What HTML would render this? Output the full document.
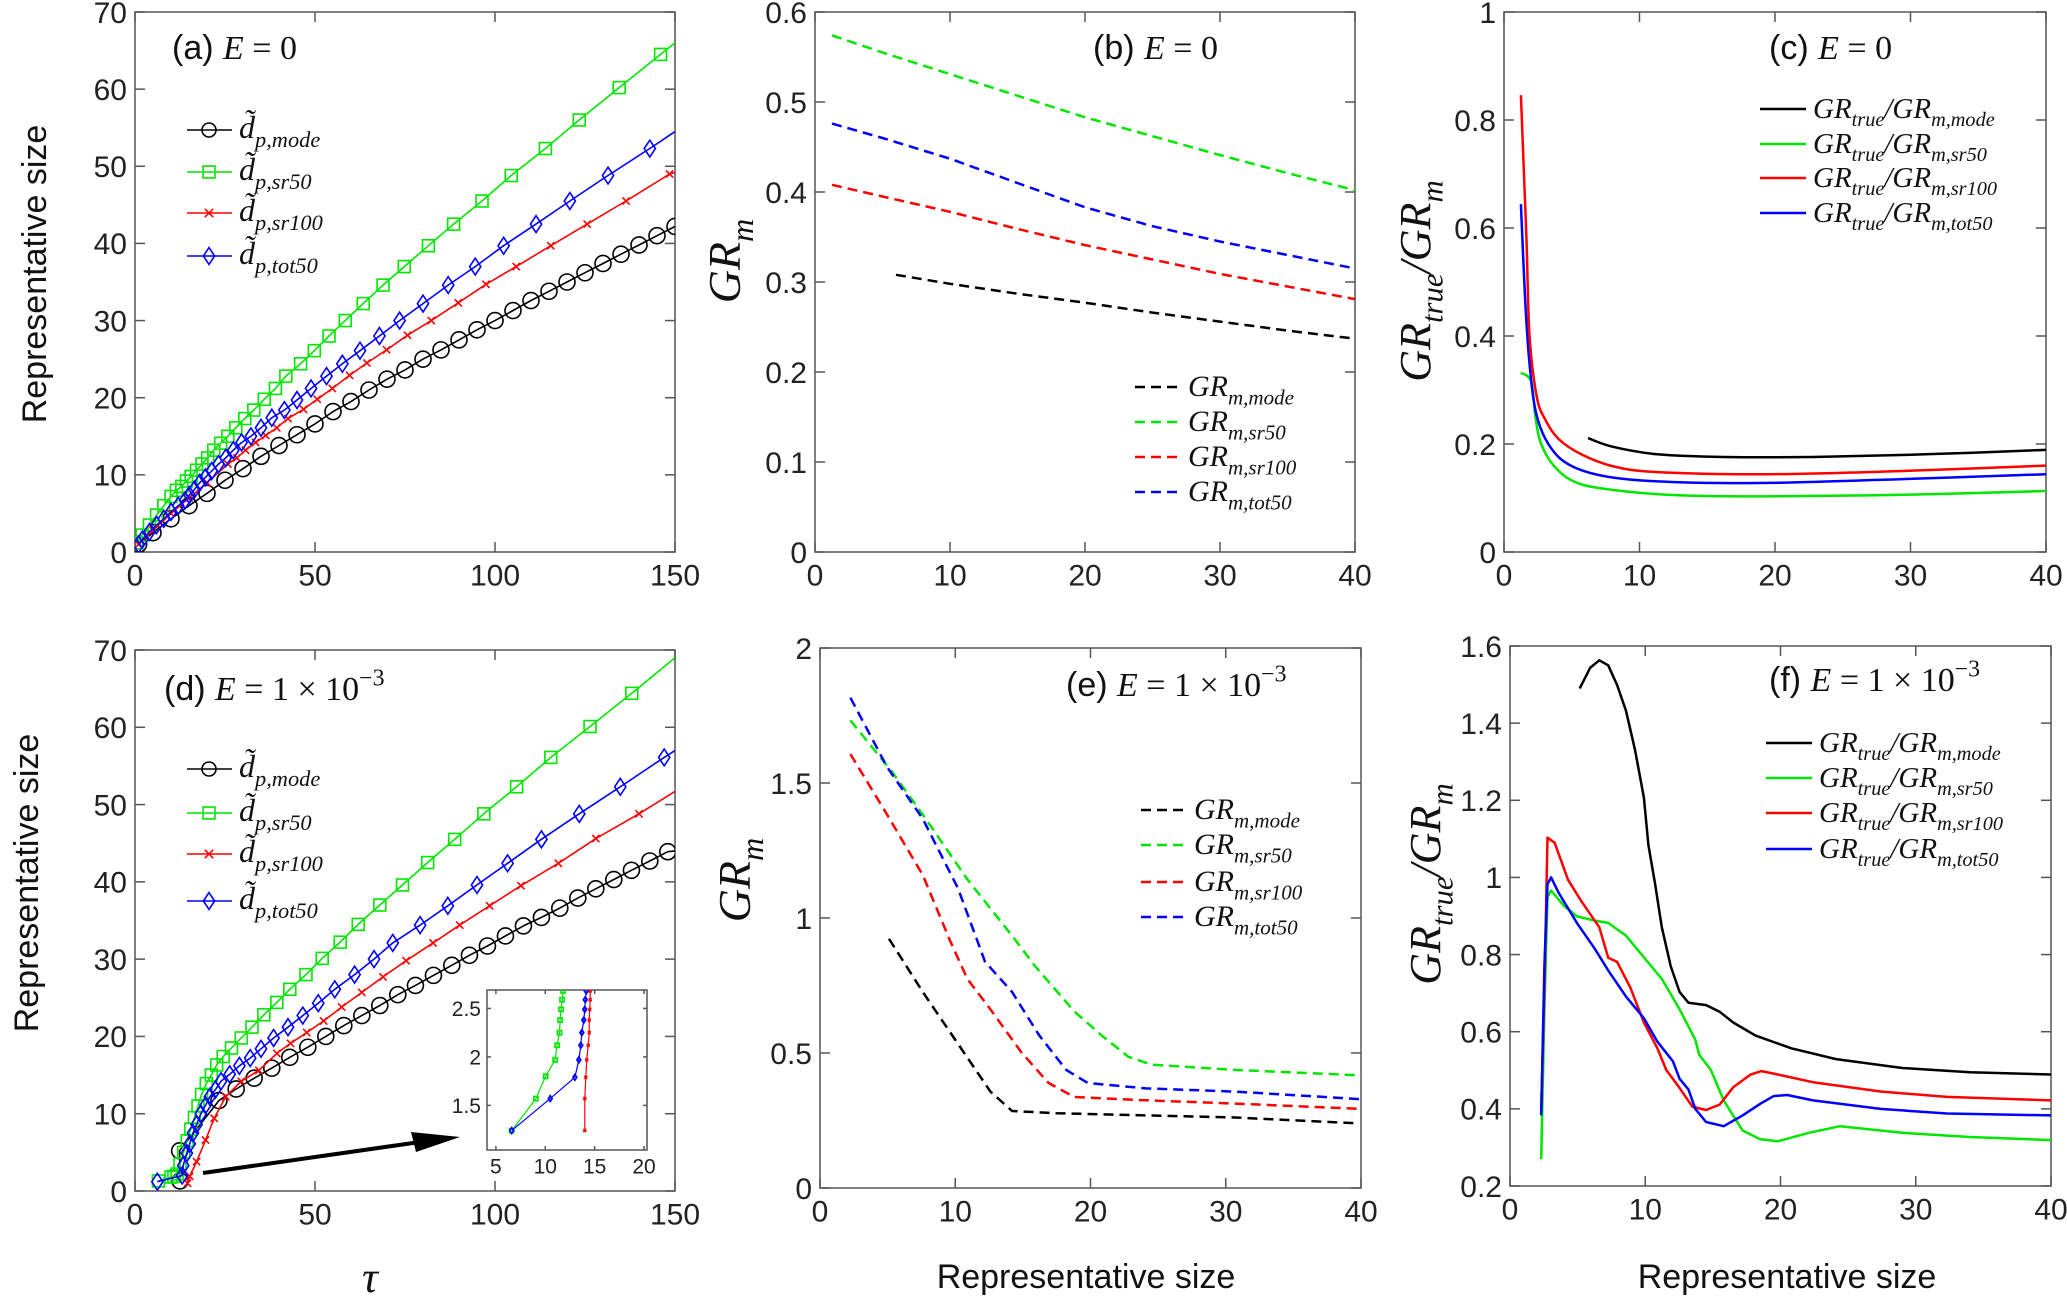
<!DOCTYPE html>
<html><head><meta charset="utf-8"><style>
html,body{margin:0;padding:0;background:#fff;}
svg{display:block;font-family:"Liberation Sans",sans-serif;}
</style></head><body>
<svg id="fig" width="2067" height="1299" viewBox="0 0 2067 1299" xmlns="http://www.w3.org/2000/svg"></svg>
<script>
// ---------- data ----------
// Panel (a)
const aBlackX=[1,5,10,15,20,25,30,35,40,45,50,55,60,65,70,75,80,85,90,95,100,105,110,115,120,125,130,135,140,145,150];
const aBlackY=[1,2.5,4.3,6,7.6,9.3,10.8,12.4,13.8,15.2,16.6,18.2,19.5,21,22.4,23.6,25,26.2,27.5,28.8,30,31.3,32.6,33.8,35,36.2,37.4,38.6,39.8,41,42.2];
const aGreenX=[0.5,2,4,6,8,10,11.5,13,14.3,15.6,17.1,18.6,20.2,21.9,23.8,25.8,28,30.5,33,35.9,39,41.9,46,49.8,53.9,58.4,63.4,68.9,74.8,81.5,88.5,96.4,104.5,114,123.4,134.5,146];
const aGreenY=[1.2,2.2,3.5,4.8,6,7.2,8,8.5,9.2,9.8,10.6,11.4,12.2,13.2,14.1,15,16.1,17.3,18.4,19.8,21.2,22.8,24.4,26.1,28,30,32.2,34.6,37,39.7,42.5,45.5,48.8,52.3,56,60.2,64.5];
const aRedX=[1,5,10,15,20,25.8,28.3,30.7,33.5,36.3,39.4,42.5,46.8,50.6,54.8,59.6,64.4,69.9,75.7,82.3,89.8,97.5,105.9,115.5,125.6,136.4,148.5];
const aRedY=[1,2.8,5,7,9,11.4,12.2,13.2,14.2,15.1,16.1,17.3,18.5,19.8,21.2,22.9,24.5,26.2,28.1,30,32.3,34.7,37,39.7,42.5,45.5,49];
const aBlueX=[1,2,4,6,8,10,12,13.9,15.1,16.5,18,19.6,21.3,23.2,25.2,27.3,29.6,32.2,35,38,41.5,45,48.9,53.2,57.6,62.5,67.9,73.5,80,87,94.5,102.4,111.4,120.8,131.4,143];
const aBlueY=[1,1.6,2.6,3.5,4.3,5.2,6,6.7,7.4,8.1,9,9.7,10.5,11.4,12.2,13.2,14.2,15,16.1,17.4,18.4,19.7,21.2,22.8,24.4,26.1,28,30,32.2,34.6,37,39.7,42.5,45.5,48.8,52.3];
const aEnd={black:42.2,green:66,red:49.2,blue:54.5};
// Panel (d)
const dBlackX=[12.5,12.4,23.3,28.1,33.1,38,43,48,53,58,63,68,73,77.9,82.9,88,92.9,97.9,102.9,107.9,112.9,118,123,128,133,137.9,143,148];
const dBlackY=[1.3,5.2,11.7,13.2,14.6,15.9,17.3,18.6,20,21.4,22.7,24,25.4,26.6,27.9,29.2,30.5,31.7,33,34.3,35.4,36.6,37.9,39.1,40.3,41.5,42.7,43.9];
const dGreenX=[6.5,10,10.8,11.7,12.5,13.5,14.5,15.5,16.5,17.5,18.5,19.8,21.2,22.7,24.5,26.8,29.5,32.5,35.8,39.4,43,47.5,52,57,62,68,74.3,81.3,88.8,96.9,106,115.5,126.4,138];
const dGreenY=[1.3,1.8,1.9,2.2,3.5,5,6.5,8,9.5,11,12.5,13.9,15,16.3,17.4,18.5,19.8,21.2,22.8,24.4,26.1,28,30.1,32.2,34.5,37,39.6,42.5,45.5,48.8,52.3,56.1,60.1,64.4];
const dRedX=[14.6,15.2,17.1,19.6,22,25.2,29.5,34.4,39.4,43.2,47.7,52.4,57.4,63,68.9,75.3,82.8,90.2,98.5,107.2,117.6,128,140];
const dRedY=[1,1.9,3.8,6.6,9.4,12.2,14.2,15.6,17.8,19.1,20.5,22,23.8,25.7,27.7,29.8,32.1,34.4,36.9,39.5,42.4,45.6,48.8];
const dBlueX=[6.2,13.1,13.4,14.4,15.2,16.1,17.1,18.3,19.6,20.8,22.3,23.9,26.3,29,32,35,38.5,42.5,46.6,50.9,55.5,61,66.4,71.6,79.2,86.9,95,103.5,112.9,123.4,134.8,147];
const dBlueY=[1.2,2,3.3,4.9,6.1,7.5,8.6,10,11.1,12.2,13.1,14.2,15.1,16.2,17.2,18.4,19.8,21.2,22.7,24.3,26.1,28,30,32.1,34.4,36.9,39.6,42.4,45.5,48.8,52.3,56.1];
const dEnd={black:44,green:69,red:51.7,blue:57};
// inset
const inGreenX=[6.6,9.05,10.04,11,11.2,11.44,11.5,11.6,11.7,11.8];
const inGreenY=[1.24,1.57,1.80,1.97,2.12,2.25,2.38,2.49,2.59,2.68];
const inBlueX=[6.6,10.5,13,13.4,13.6,13.7,13.9,14,14.05,14.15];
const inBlueY=[1.24,1.57,1.79,1.97,2.12,2.25,2.38,2.49,2.59,2.68];
const inRedX=[14,14,14.1,14.2,14.35,14.45,14.45,14.5,14.55,14.55];
const inRedY=[1.24,1.57,1.79,1.97,2.12,2.25,2.38,2.49,2.59,2.68];
// Panel (b)
const bX=[1.26,5,10,15,20,25,30,35,40];
const bGreen=[0.574,0.555,0.531,0.507,0.483,0.462,0.441,0.421,0.402];
const bBlue=[0.476,0.46,0.437,0.41,0.383,0.362,0.345,0.33,0.315];
const bRed=[0.408,0.395,0.378,0.359,0.341,0.325,0.309,0.295,0.281];
const bBlackX=[6,10,15,20,25,30,35,40];
const bBlack=[0.308,0.298,0.287,0.277,0.266,0.256,0.246,0.237];
// Panel (c)
const cRedX=[1.25,1.65,1.88,2.4,3,4,5.7,8,11.3,19.5,29.4,40];
const cRed=[0.846,0.583,0.40,0.29,0.247,0.21,0.181,0.159,0.148,0.144,0.15,0.16];
const cBlueX=[1.25,1.55,1.88,2.4,3.4,5,8,12.9,19.5,29.4,40];
const cBlue=[0.644,0.473,0.349,0.254,0.195,0.159,0.138,0.129,0.128,0.135,0.144];
const cGreenX=[1.25,2,2.3,2.7,3.7,5.3,8,12.9,19.5,29.4,40];
const cGreen=[0.332,0.316,0.254,0.203,0.159,0.129,0.115,0.105,0.103,0.106,0.113];
const cBlackX=[6.2,8,11.3,16.2,22.8,31.1,40];
const cBlack=[0.211,0.195,0.181,0.176,0.176,0.181,0.189];
// Panel (e)
const eGreenX=[2.25,5.3,7.6,10.9,14.2,15.9,18.8,20.8,22.8,24.5,30.7,40];
const eGreen=[1.732,1.543,1.383,1.143,0.934,0.822,0.654,0.566,0.486,0.457,0.4375,0.417];
const eBlueX=[2.25,4.96,7.6,10.2,12.2,14.2,16.2,18.2,19.8,24.1,30.7,40];
const eBlue=[1.816,1.559,1.367,1.11,0.838,0.726,0.566,0.4375,0.389,0.369,0.357,0.329];
const eRedX=[2.25,4.96,7.6,9.6,10.9,12.6,14.9,16.9,18.8,24.1,30.7,40];
const eRed=[1.607,1.383,1.159,0.918,0.774,0.662,0.502,0.389,0.337,0.325,0.3125,0.293];
const eBlackX=[5.1,7.6,10.2,12.6,14.2,17.5,24.1,30.7,39.5];
const eBlack=[0.923,0.726,0.534,0.357,0.285,0.277,0.269,0.261,0.24];
// Panel (f)
const fBlackX=[5.15,5.94,6.6,7.26,7.92,8.58,9.24,9.9,10.23,10.73,11.22,11.88,12.54,13.2,14.5,15.5,16.5,18.15,20.8,24.1,29,34,40];
const fBlack=[1.49,1.544,1.563,1.55,1.499,1.432,1.331,1.207,1.084,0.983,0.871,0.77,0.703,0.675,0.669,0.652,0.624,0.59,0.557,0.529,0.506,0.495,0.489];
const fRedX=[2.31,2.54,2.77,3.3,4.29,5.28,6.6,7.26,7.92,8.9,9.9,10.9,11.55,12.5,13.5,14.5,15.5,16.5,17.8,18.6,19.8,22.4,27.4,32.3,40];
const fRed=[0.4,0.714,1.103,1.09,0.994,0.938,0.871,0.792,0.781,0.714,0.624,0.557,0.501,0.456,0.405,0.397,0.411,0.456,0.489,0.498,0.489,0.469,0.445,0.431,0.422];
const fBlueX=[2.31,2.54,2.77,3.04,3.6,4.95,6.27,7.26,8.58,9.9,10.9,12.05,12.54,13.2,13.7,14.5,15.8,17.2,18.5,19.5,20.5,22.4,27.4,32.3,40];
const fBlue=[0.383,0.77,0.983,1.0,0.96,0.882,0.815,0.759,0.691,0.635,0.574,0.523,0.478,0.45,0.4,0.366,0.355,0.383,0.413,0.433,0.436,0.422,0.4,0.388,0.383];
const fGreenX=[2.31,2.54,2.77,3.04,3.96,4.95,6.27,7.26,8.58,9.9,11.22,12.54,13.7,14,14.85,15.8,17.2,18.5,19.8,22.1,24.4,29,34,40];
const fGreen=[0.27,0.658,0.949,0.966,0.927,0.899,0.888,0.882,0.849,0.793,0.737,0.658,0.579,0.54,0.501,0.422,0.344,0.321,0.316,0.338,0.355,0.338,0.327,0.319];
// ticks
const tauTicks=[0,50,100,150];
const sizeTicks=[0,10,20,30,40,50,60,70];
const grTicks=[0,10,20,30,40];
const bYTicks=[0,0.1,0.2,0.3,0.4,0.5,0.6];
const cYTicks=[0,0.2,0.4,0.6,0.8,1];
const eYTicks=[0,0.5,1,1.5,2];
const fYTicks=[0.2,0.4,0.6,0.8,1,1.2,1.4,1.6];
const inXTicks=[5,10,15,20];
const inYTicks=[1.5,2,2.5];

// ---------- drawing ----------
const NS="http://www.w3.org/2000/svg";
const svg=document.getElementById('fig');
const COL={black:'#000',green:'#00e600',red:'#ff0000',blue:'#0000ff'};
function el(tag,attrs,parent){const e=document.createElementNS(NS,tag);for(const k in attrs)e.setAttribute(k,attrs[k]);(parent||svg).appendChild(e);return e;}
let clipId=0;
function makeAxes(name,L,R,T,B,xmin,xmax,ymin,ymax,xt,yt,opt){
  opt=opt||{};
  const g=el('g',{});
  
  
  const sx=v=>L+(v-xmin)/(xmax-xmin)*(R-L);
  const sy=v=>B-(v-ymin)/(ymax-ymin)*(B-T);
  const fs=opt.fs||30, tl=opt.tl||10;
  el('rect',{x:L,y:T,width:R-L,height:B-T,fill:'#fff',stroke:'#555','stroke-width':1.5},g);
  const tk=el('g',{stroke:'#555','stroke-width':1.5},g);
  
  
  xt.forEach(v=>{const x=sx(v);el('line',{x1:x,x2:x,y1:B,y2:B-tl},tk);el('line',{x1:x,x2:x,y1:T,y2:T+tl},tk);
    const t=el('text',{x:x,y:B+fs*1.12,'text-anchor':'middle','font-size':fs,fill:'#222'},g);t.textContent=String(v);
    
    });
  yt.forEach(v=>{const y=sy(v);el('line',{x1:L,x2:L+tl,y1:y,y2:y},tk);el('line',{x1:R,x2:R-tl,y1:y,y2:y},tk);
    const t=el('text',{x:L-(opt.lpad||8),y:y+fs*0.36,'text-anchor':'end','font-size':fs,fill:'#222'},g);t.textContent=String(v);
    
    });
  const id='clip'+(clipId++);
  const cp=el('clipPath',{id:id},g);el('rect',{x:L,y:T,width:R-L,height:B-T},cp);
  const plot=el('g',{'clip-path':'url(#'+id+')'},g);
  
  
  return {g,plot,sx,sy};
}
function pathD(ax,xs,ys,smooth){
  const P=xs.map((x,i)=>[ax.sx(x),ax.sy(ys[i])]);
  if(!smooth)return P.map((p,i)=>(i?'L':'M')+p[0].toFixed(1)+' '+p[1].toFixed(1)).join(' ');
  let d='M'+P[0][0].toFixed(1)+' '+P[0][1].toFixed(1);
  for(let i=0;i<P.length-1;i++){
    const p0=P[i-1]||P[i],p1=P[i],p2=P[i+1],p3=P[i+2]||p2;
    const c1=[p1[0]+(p2[0]-p0[0])/6,p1[1]+(p2[1]-p0[1])/6];
    const c2=[p2[0]-(p3[0]-p1[0])/6,p2[1]-(p3[1]-p1[1])/6];
    d+=` C${c1[0].toFixed(1)} ${c1[1].toFixed(1)} ${c2[0].toFixed(1)} ${c2[1].toFixed(1)} ${p2[0].toFixed(1)} ${p2[1].toFixed(1)}`;
  }
  return d;
}
function line(ax,xs,ys,color,name,dash,w,smooth){
  const p=el('path',{d:pathD(ax,xs,ys,smooth),fill:'none',stroke:color,'stroke-width':w||2.5,'stroke-linejoin':'round'},ax.plot);
  if(dash)p.setAttribute('stroke-dasharray',dash);
  
  
  return p;
}
function marker(parent,type,x,y,color,s){
  let m;
  if(type==='o')m=el('circle',{cx:x,cy:y,r:s,fill:'none',stroke:color,'stroke-width':1.6},parent);
  else if(type==='s')m=el('rect',{x:x-s*0.85,y:y-s*0.85,width:s*1.7,height:s*1.7,fill:'none',stroke:color,'stroke-width':1.6},parent);
  else if(type==='d')m=el('path',{d:`M${x} ${y-s*1.2}L${x+s*0.8} ${y}L${x} ${y+s*1.2}L${x-s*0.8} ${y}Z`,fill:'none',stroke:color,'stroke-width':1.6},parent);
  else m=el('path',{d:`M${x-s*0.6} ${y-s*0.6}L${x+s*0.6} ${y+s*0.6}M${x-s*0.6} ${y+s*0.6}L${x+s*0.6} ${y-s*0.6}`,stroke:color,'stroke-width':1.6},parent);
  
  
}
function markedSeries(ax,xs,ys,endX,endY,color,type,size,name){
  line(ax,xs.concat([endX]),ys.concat([endY]),color,name,null,1.6);
  const mg=el('g',{},ax.plot);
  
  
  xs.forEach((x,i)=>marker(mg,type,ax.sx(x),ax.sy(ys[i]),color,size));
}
function mathText(parent,x,y,parts,fs,anchor,name,rotate){
  const t=el('text',{x:x,y:y,'font-size':fs,fill:'#111','text-anchor':anchor||'start'},parent);
  if(rotate)t.setAttribute('transform',`rotate(-90 ${x} ${y})`);
  
  
  let shift=0;
  parts.forEach(p=>{
    const ts=el('tspan',{},t);
    const fam=p[2]==='sans'?'"Liberation Sans",sans-serif':'"Liberation Serif",serif';
    ts.setAttribute('font-family',fam);
    ts.setAttribute('font-style',p[2]==='i'?'italic':'normal');
    let target=0,size=fs;
    if(p[1]==='sub'){target=fs*0.28;size=fs*0.7;}
    if(p[1]==='sup'){target=-fs*0.42;size=fs*0.7;}
    ts.setAttribute('dy',(target-shift).toFixed(1));shift=target;
    ts.setAttribute('font-size',size.toFixed(1));
    ts.textContent=p[0];
  });
  return t;
}
function plainText(x,y,s,fs,name,rotate,anchor){
  const t=el('text',{x:x,y:y,'font-size':fs,fill:'#111','text-anchor':anchor||'middle'});
  if(rotate)t.setAttribute('transform',`rotate(-90 ${x} ${y})`);
  t.textContent=s;
  
  
}
function title(x,y,letter,exp,fs,name){
  const parts=[['('+letter+') ','n','sans'],['E','n','i'],[' = ','n','r']];
  if(exp){parts.push(['1 × 10','n','r']);parts.push(['−3','sup','r']);}else parts.push(['0','n','r']);
  mathText(svg,x,y,parts,fs,'start',name);
}
const subs={mode:'m,mode',sr50:'m,sr50',sr100:'m,sr100',tot50:'m,tot50'};
const keys=['mode','sr50','sr100','tot50'], kcol=['black','green','red','blue'];
function legendD(x0,ys,name){
  const g=el('g',{});
  const types=['o','s','x','d'];
  ys.forEach((y,i)=>{
    const e=el('g',{},g);
    
    
    el('line',{x1:x0,x2:x0+45,y1:y,y2:y,stroke:COL[kcol[i]],'stroke-width':1.6},e);
    marker(e,types[i],x0+22,y,COL[kcol[i]],7);
    mathText(e,x0+52,y+8,[['d̃','n','i'],['p,'+keys[i],'sub','i']],32,'start','legend-label');
  });
}
function legendGR(x0,ys,ratio,dash,name,fs){
  const g=el('g',{});
  ys.forEach((y,i)=>{
    const e=el('g',{},g);
    
    
    const l=el('line',{x1:x0,x2:x0+46,y1:y,y2:y,stroke:COL[kcol[i]],'stroke-width':2.5},e);
    if(dash)l.setAttribute('stroke-dasharray','10 6');
    const parts=ratio?[['GR','n','i'],['true','sub','i'],['/GR','n','i'],[subs[keys[i]],'sub','i']]:[['GR','n','i'],[subs[keys[i]],'sub','i']];
    mathText(e,x0+53,y+9,parts,fs||30,'start','legend-label');
  });
}

// (a)
const A=makeAxes('panel-a',135,675,12,552,0,150,0,70,tauTicks,sizeTicks);
markedSeries(A,aBlackX,aBlackY,150,aEnd.black,COL.black,'o',8,'series-mode');
markedSeries(A,aGreenX,aGreenY,150,aEnd.green,COL.green,'s',7,'series-sr50');
markedSeries(A,aRedX,aRedY,150,aEnd.red,COL.red,'x',6,'series-sr100');
markedSeries(A,aBlueX,aBlueY,150,aEnd.blue,COL.blue,'d',7,'series-tot50');
title(172,59,'a',false,34,'panel-a-title');
legendD(187,[130,172,213,256],'panel-a-legend');
plainText(46,274,'Representative size',34,'panel-a-y-title',true);

// (d)
const D=makeAxes('panel-d',135,675,650,1191,0,150,0,70,tauTicks,sizeTicks);
markedSeries(D,dBlackX,dBlackY,150,dEnd.black,COL.black,'o',8,'series-mode');
markedSeries(D,dGreenX,dGreenY,150,dEnd.green,COL.green,'s',7,'series-sr50');
markedSeries(D,dRedX,dRedY,150,dEnd.red,COL.red,'x',6,'series-sr100');
markedSeries(D,dBlueX,dBlueY,150,dEnd.blue,COL.blue,'d',7,'series-tot50');
title(164,700,'d',true,34,'panel-d-title');
legendD(187,[769,813,854,901],'panel-d-legend');
plainText(38,883,'Representative size',34,'panel-d-y-title',true);
mathText(svg,370,1292,[['τ','n','i']],44,'middle','panel-d-x-title');
const ar=el('g',{});
el('line',{x1:203,y1:1173,x2:420,y2:1142,stroke:'#000','stroke-width':4},ar);
el('path',{d:'M460 1137 L411 1132 L416 1152 Z',fill:'#000'},ar);
const I=makeAxes('inset',487,647,990,1150,4.1,20.3,1.04,2.69,inXTicks,inYTicks,{fs:21,tl:4,lpad:6});
function inset(xs,ys,c,t,n){line(I,xs,ys,c,n,null,1.2);const mg=el('g',{},I.plot);xs.forEach((x,i)=>marker(mg,t,I.sx(x),I.sy(ys[i]),c,2.5));}
inset(inGreenX,inGreenY,COL.green,'s','inset-sr50');
inset(inBlueX,inBlueY,COL.blue,'d','inset-tot50');
inset(inRedX,inRedY,COL.red,'x','inset-sr100');

// (b)
const Bp=makeAxes('panel-b',815,1355,12,552,0,40,0,0.6,grTicks,bYTicks);
line(Bp,bX,bGreen,COL.green,'series-sr50','10 6');
line(Bp,bX,bBlue,COL.blue,'series-tot50','10 6');
line(Bp,bX,bRed,COL.red,'series-sr100','10 6');
line(Bp,bBlackX,bBlack,COL.black,'series-mode','10 6');
title(1093,59,'b',false,34,'panel-b-title');
legendGR(1135,[387,422,457,492],false,true,'panel-b-legend');
mathText(svg,740,261,[['GR','n','i'],['m','sub','i']],46,'middle','panel-b-y-title',true);

// (c)
const C=makeAxes('panel-c',1504,2046,12,552,0,40,0,1,grTicks,cYTicks);
line(C,cGreenX,cGreen,COL.green,'series-sr50',null,2.5,true);
line(C,cBlueX,cBlue,COL.blue,'series-tot50',null,2.5,true);
line(C,cRedX,cRed,COL.red,'series-sr100',null,2.5,true);
line(C,cBlackX,cBlack,COL.black,'series-mode',null,2.5,true);
title(1769,59,'c',false,34,'panel-c-title');
legendGR(1760,[109,144,178,213],true,false,'panel-c-legend',29);
mathText(svg,1430,281,[['GR','n','i'],['true','sub','i'],['/GR','n','i'],['m','sub','i']],44,'middle','panel-c-y-title',true);

// (e)
const Ep=makeAxes('panel-e',820,1361,648,1188,0,40,0,2,grTicks,eYTicks);
line(Ep,eGreenX,eGreen,COL.green,'series-sr50','10 6');
line(Ep,eBlueX,eBlue,COL.blue,'series-tot50','10 6');
line(Ep,eRedX,eRed,COL.red,'series-sr100','10 6');
line(Ep,eBlackX,eBlack,COL.black,'series-mode','10 6');
title(1066,696,'e',true,34,'panel-e-title');
legendGR(1141,[810,845,882,917],false,true,'panel-e-legend');
mathText(svg,750,880,[['GR','n','i'],['m','sub','i']],46,'middle','panel-e-y-title',true);
plainText(1086,1288,'Representative size',34,'panel-e-x-title');

// (f)
const F=makeAxes('panel-f',1510,2051,646,1186,0,40,0.2,1.6,grTicks,fYTicks);
line(F,fBlackX,fBlack,COL.black,'series-mode');
line(F,fGreenX,fGreen,COL.green,'series-sr50');
line(F,fRedX,fRed,COL.red,'series-sr100');
line(F,fBlueX,fBlue,COL.blue,'series-tot50');
title(1769,691,'f',true,34,'panel-f-title');
legendGR(1766,[743,778,813,849],true,false,'panel-f-legend',29);
mathText(svg,1440,884,[['GR','n','i'],['true','sub','i'],['/GR','n','i'],['m','sub','i']],44,'middle','panel-f-y-title',true);
plainText(1787,1288,'Representative size',34,'panel-f-x-title');
</script>
</body></html>
